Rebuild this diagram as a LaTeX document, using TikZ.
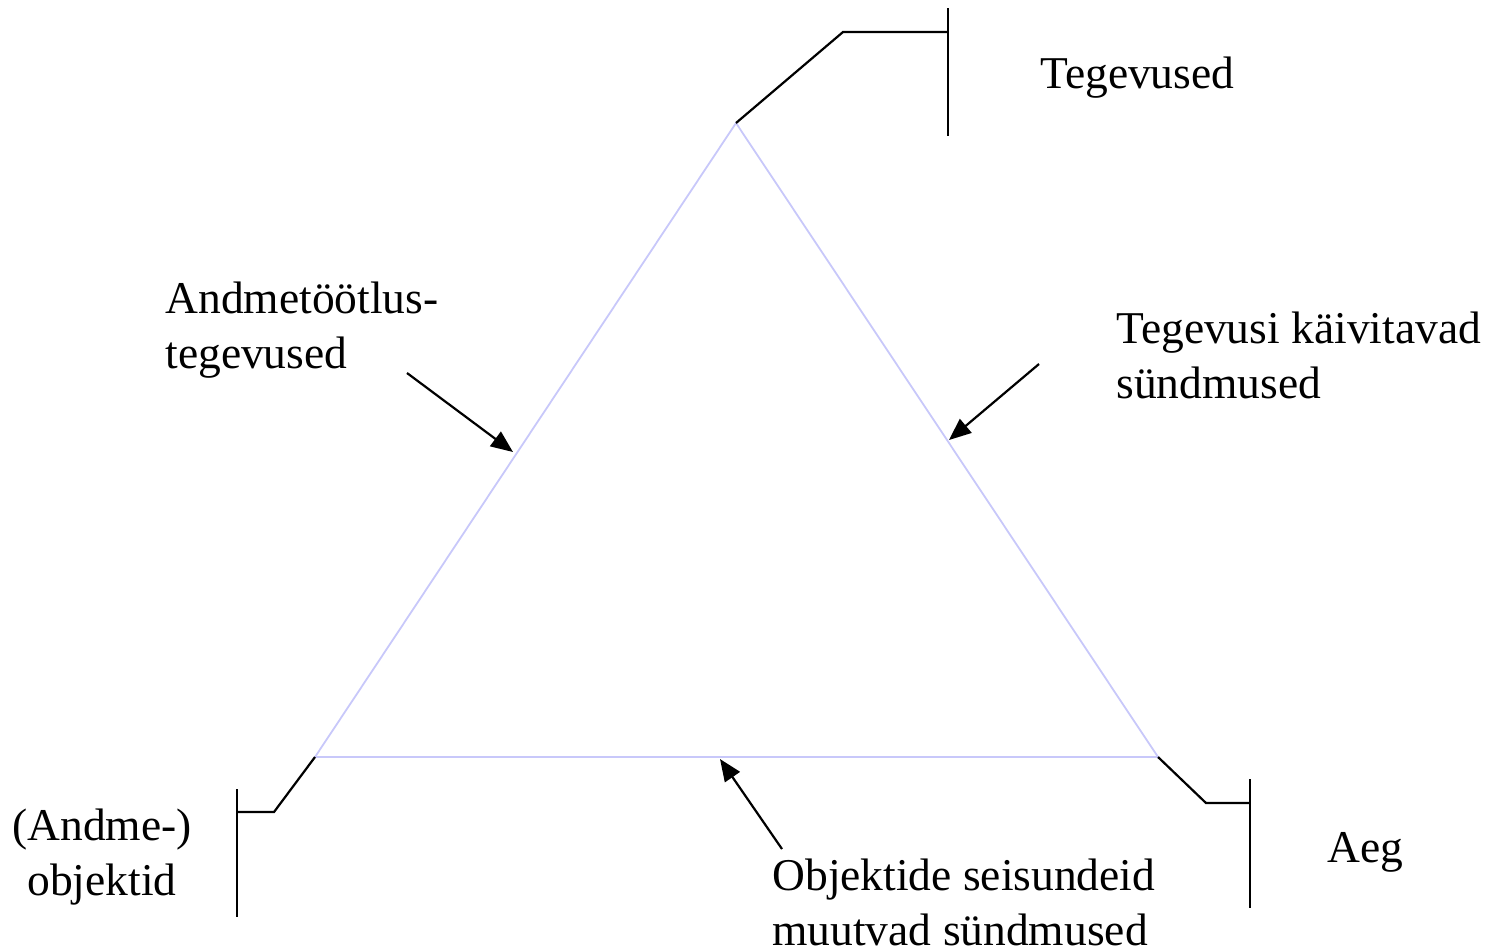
\documentclass[tikz,border=0pt]{standalone}
\usepackage{fontspec}
\setmainfont{Liberation Serif}
\usetikzlibrary{arrows.meta}
\definecolor{edgeblue}{RGB}{200,200,250}
\begin{document}
\begin{tikzpicture}[x=0.5pt,y=-0.5pt,
  side/.style={draw=edgeblue, line width=0.9pt},
  leader/.style={draw=black, line width=1.1pt},
  pointer/.style={draw=black, line width=1.1pt, -{Triangle[length=11pt,width=9pt]}},
  label/.style={inner sep=0pt, font=\fontsize{22.75}{27.5}\selectfont, align=left, anchor=base west}]
\useasboundingbox (0,0) rectangle (1492,949);
% triangle corners
\coordinate (top) at (736,123);
\coordinate (bl) at (315,757);
\coordinate (br) at (1158,757);
\draw[side] (top) -- (bl) -- (br) -- cycle;
% bent leaders to the three vertical bars
\coordinate (tk) at (843,32);
\coordinate (tj) at (948,32);
\coordinate (tbarA) at (948,8);
\coordinate (tbarB) at (948,136);
\draw[leader] (top) -- (tk) -- (tj);
\draw[leader] (tbarA) -- (tbarB);
\coordinate (lk) at (274,812);
\coordinate (lj) at (237,812);
\coordinate (lbarA) at (237,789);
\coordinate (lbarB) at (237,917);
\draw[leader] (bl) -- (lk) -- (lj);
\draw[leader] (lbarA) -- (lbarB);
\coordinate (rk) at (1206,803);
\coordinate (rj) at (1250,803);
\coordinate (rbarA) at (1250,779);
\coordinate (rbarB) at (1250,908);
\draw[leader] (br) -- (rk) -- (rj);
\draw[leader] (rbarA) -- (rbarB);
% labels (base anchor sits on the last line's baseline)
\node[label] (teg) at (1040,88) {Tegevused};
\node[label] (andm) at (165,368) {Andmetöötlus-\\tegevused};
\node[label] (kaiv) at (1116,398) {Tegevusi käivitavad\\sündmused};
\node[label, align=center, anchor=base] (obj) at (102,895) {(Andme-)\\objektid};
\node[label] (aeg) at (1327,862) {Aeg};
\node[label] (seis) at (772,945) {Objektide seisundeid\\muutvad sündmused};
% arrows pointing at the sides
\coordinate (a1s) at (407,373);
\coordinate (a1e) at (513,452);
\coordinate (a2s) at (1039,364);
\coordinate (a2e) at (949,440);
\coordinate (a3s) at (782,849);
\coordinate (a3e) at (720,759);
\draw[pointer] (a1s) -- (a1e);
\draw[pointer] (a2s) -- (a2e);
\draw[pointer] (a3s) -- (a3e);
\end{tikzpicture}
\end{document}
